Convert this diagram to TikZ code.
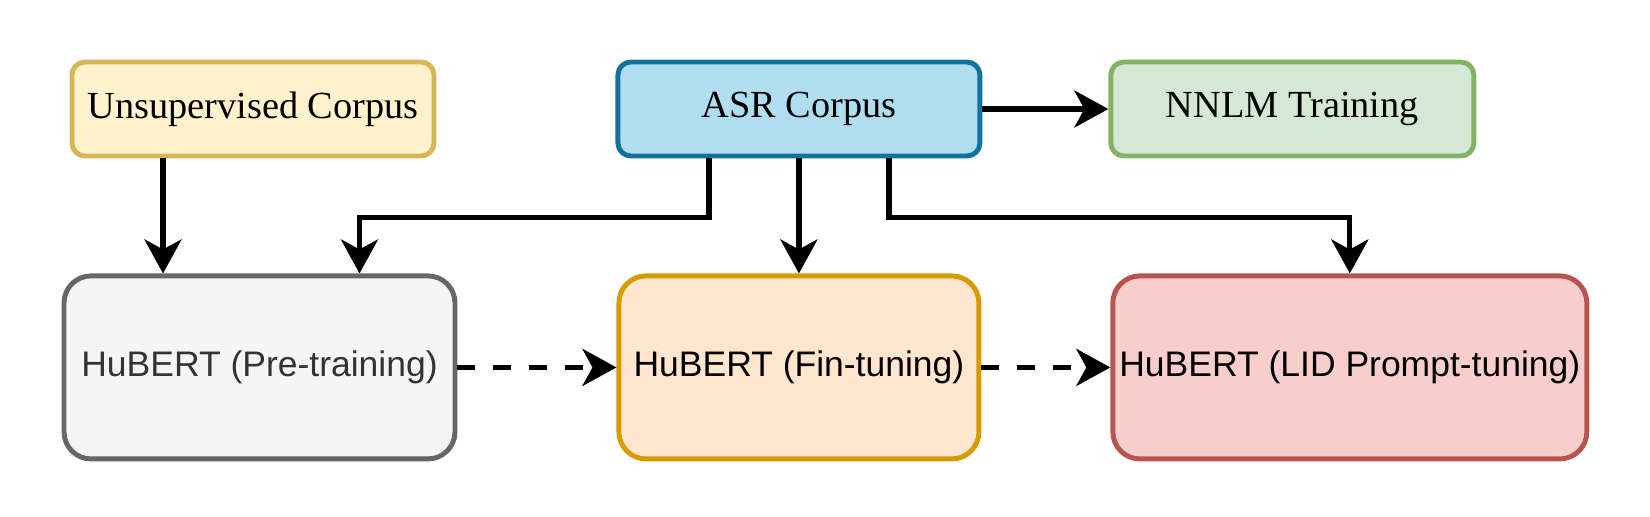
\documentclass[tikz,border=0pt]{standalone}
\usepackage{fontspec}
\setmainfont{Liberation Serif}
\newfontfamily\arialfont{Liberation Sans}
\usepackage{tikz}
\usetikzlibrary{positioning,shapes,arrows.meta}
\usepackage{xcolor}

\definecolor{unsupFill}{HTML}{FFF2CC}
\definecolor{unsupLine}{HTML}{D6B656}
\definecolor{asrFill}{HTML}{B1DDF0}
\definecolor{asrLine}{HTML}{10739E}
\definecolor{nnlmFill}{HTML}{D5E8D4}
\definecolor{nnlmLine}{HTML}{82B366}
\definecolor{preFill}{HTML}{F5F5F5}
\definecolor{preLine}{HTML}{666666}
\definecolor{preText}{HTML}{333333}
\definecolor{fineFill}{HTML}{FFE6CC}
\definecolor{fineLine}{HTML}{D79B00}
\definecolor{lidFill}{HTML}{F8CECC}
\definecolor{lidLine}{HTML}{B85450}

\begin{document}
\begin{tikzpicture}[
    corpus/.style={draw, line width=1.4pt, rectangle, rounded corners=0.13cm, minimum height=0.94cm, inner sep=0pt, font=\fontsize{10.9}{13}\selectfont},
    hubert/.style={draw, line width=1.4pt, rectangle, rounded corners=0.27cm, minimum height=1.83cm, inner sep=0pt, font=\arialfont\fontsize{10.1}{12}\selectfont},
    arr/.style={line width=1.5pt, -{Stealth[length=0.34cm, width=0.37cm, inset=0.1cm]}},
    darr/.style={arr, dash pattern=on 0.18cm off 0.18cm}
  ]
    \useasboundingbox (0,0) rectangle (16.5,5.16);

    \node (unsup) [corpus, fill=unsupFill, draw=unsupLine, minimum width=3.62cm] at (2.53,4.07) {Unsupervised Corpus};
    \node (asr) [corpus, fill=asrFill, draw=asrLine, minimum width=3.62cm, right=1.79cm of unsup] {ASR Corpus};
    \node (nnlm) [corpus, fill=nnlmFill, draw=nnlmLine, minimum width=3.63cm, right=1.26cm of asr] {NNLM Training};

    \node (fine) [hubert, fill=fineFill, draw=fineLine, minimum width=3.6cm, below=1.15cm of asr] {HuBERT (Fin-tuning)};
    \node (pre) [hubert, fill=preFill, draw=preLine, text=preText, minimum width=3.91cm, left=1.59cm of fine] {HuBERT (Pre-training)};
    \node (lid) [hubert, fill=lidFill, draw=lidLine, minimum width=4.74cm, right=1.29cm of fine] {HuBERT (LID Prompt-tuning)};

    \draw[arr] ([xshift=-0.9cm]unsup.south) -- ([xshift=-0.9cm]unsup.south |- pre.north);
    \draw[arr] ([xshift=-0.9cm]asr.south) -- ++(0,-0.59) -| ([xshift=1cm]pre.north);
    \draw[arr] (asr) -- (fine);
    \draw[arr] ([xshift=0.9cm]asr.south) -- ++(0,-0.59) -| (lid.north);
    \draw[arr] (asr) -- (nnlm);
    \draw[darr] (pre) -- (fine);
    \draw[darr] (fine) -- (lid);
\end{tikzpicture}
\end{document}
